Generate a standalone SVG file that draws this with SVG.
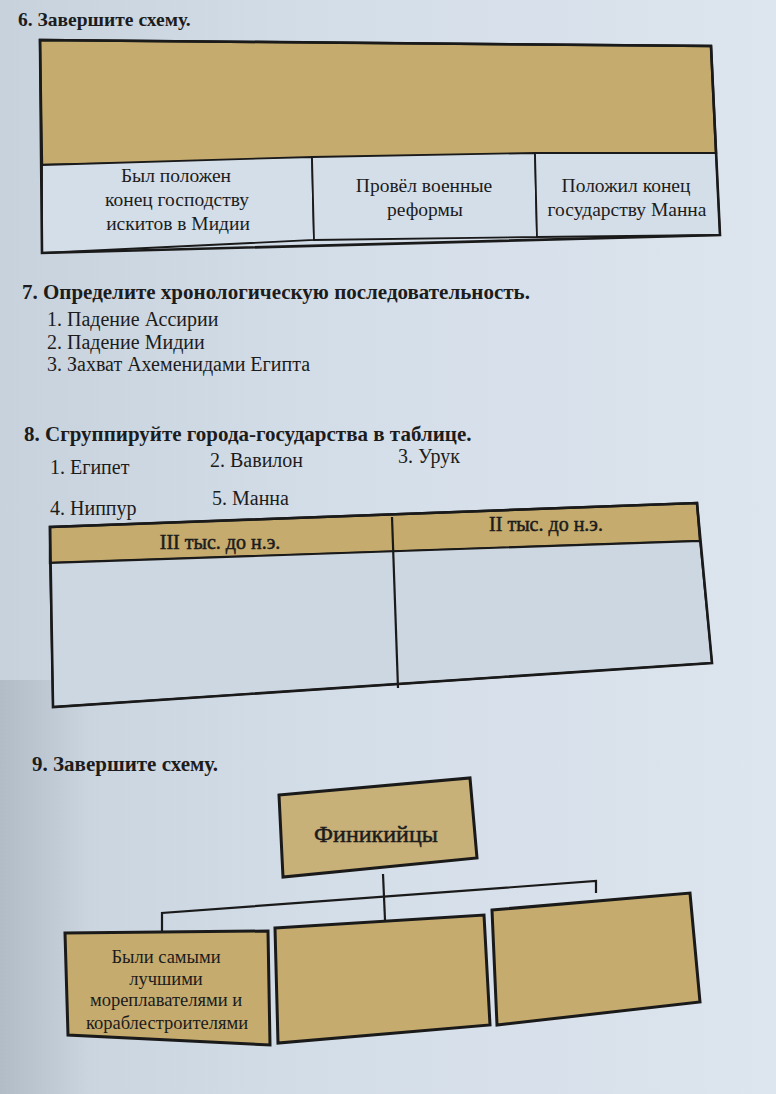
<svg xmlns="http://www.w3.org/2000/svg" width="776" height="1094" viewBox="0 0 776 1094">
<defs>
<style>
.t{font-family:"Liberation Serif","DejaVu Serif",serif;fill:#1c1c1c}
.h{font-weight:bold;font-size:20px}
.n{font-size:20px}
.c{font-size:19.5px;text-anchor:middle}
.hd{font-size:20px;text-anchor:middle;stroke:#1c1c1c;stroke-width:0.5}
.s{font-size:18.5px;text-anchor:middle}
.tan{fill:#c5ab6e;stroke:#1a1a1a;stroke-width:2.4}
.cell{fill:#d4dee9;stroke:#1a1a1a;stroke-width:1.8}
.ln{fill:none;stroke:#1a1a1a;stroke-width:2.2}
</style>
<linearGradient id="bg" x1="0" y1="0" x2="1" y2="0">
<stop offset="0" stop-color="#c8d2dd"/>
<stop offset="0.4" stop-color="#d3dde8"/>
<stop offset="1" stop-color="#dde5ee"/>
</linearGradient>
<linearGradient id="sh" x1="0" y1="0" x2="1" y2="0">
<stop offset="0" stop-color="#a9b3be"/>
<stop offset="1" stop-color="#a9b3be" stop-opacity="0"/>
</linearGradient>
</defs>
<rect width="776" height="1094" fill="url(#bg)"/>
<rect x="0" y="680" width="90" height="414" fill="url(#sh)" opacity="0.7"/>

<!-- Section 6 -->
<text class="t h" x="18" y="26" style="font-size:19.5px">6. Завершите схему.</text>
<g id="scheme6">
<polygon class="tan" points="40,40 711,46 716,153 42,165"/>
<polygon class="cell" points="42,165 312,157 314,240 42,253"/>
<polygon class="cell" points="312,157 535,153 537,237 314,240"/>
<polygon class="cell" points="535,153 716,153 720,235 537,237"/>
<polygon class="ln" points="40,40 711,46 720,235 42,253" style="stroke-width:2.6"/>
<text class="t c"><tspan x="176" y="182">Был положен</tspan><tspan x="177" y="206">конец господству</tspan><tspan x="178" y="230">искитов в Мидии</tspan></text>
<text class="t c"><tspan x="424" y="192">Провёл военные</tspan><tspan x="425" y="216">реформы</tspan></text>
<text class="t c"><tspan x="626" y="192">Положил конец</tspan><tspan x="627" y="216">государству Манна</tspan></text>
</g>

<!-- Section 7 -->
<text class="t h" x="22" y="299" style="font-size:21px">7. Определите хронологическую последовательность.</text>
<text class="t n" x="47" y="326">1. Падение Ассирии</text>
<text class="t n" x="47" y="349">2. Падение Мидии</text>
<text class="t n" x="47" y="371">3. Захват Ахеменидами Египта</text>

<!-- Section 8 -->
<text class="t h" x="24" y="441" style="font-size:21px">8. Сгруппируйте города-государства в таблице.</text>
<text class="t n" x="50" y="474">1. Египет</text>
<text class="t n" x="210" y="467">2. Вавилон</text>
<text class="t n" x="398" y="463">3. Урук</text>
<text class="t n" x="50" y="515">4. Ниппур</text>
<text class="t n" x="212" y="505">5. Манна</text>
<g id="table8">
<polygon class="tan" points="50,527 697,503 700,541 50,563"/>
<polygon class="cell" points="50,563 700,541 712,663 53,707" style="fill:#cdd7e2"/>
<polygon class="ln" points="50,527 697,503 712,663 53,707" style="stroke-width:2.6"/>
<line class="ln" x1="392" y1="517" x2="398" y2="688"/>
<text class="t hd" x="220" y="549">III тыс. до н.э.</text>
<text class="t hd" x="546" y="531">II тыс. до н.э.</text>
</g>

<!-- Section 9 -->
<text class="t h" x="32" y="771" style="font-size:21px">9. Завершите схему.</text>
<g id="connectors">
<line class="ln" x1="383" y1="874" x2="385" y2="920"/>
<polyline class="ln" points="162,933 162,913 596,881 596,893"/>
</g>
<g id="node-phoenicians">
<polygon class="tan" points="279,795 470,778 477,858 283,877" style="stroke-width:3;fill:#c8b079"/>
<text class="t c" x="376" y="842" style="font-size:24px;stroke:#1c1c1c;stroke-width:0.5">Финикийцы</text>
</g>
<g id="node-left">
<polygon class="tan" points="65,933 268,931 270,1045 68,1035" style="stroke-width:3"/>
<text class="t s"><tspan x="166" y="963">Были самыми</tspan><tspan x="166" y="985">лучшими</tspan><tspan x="166" y="1006">мореплавателями и</tspan><tspan x="167" y="1029">кораблестроителями</tspan></text>
</g>
<g id="node-middle">
<polygon class="tan" points="275,928 484,915 490,1025 278,1043" style="stroke-width:3"/>
</g>
<g id="node-right">
<polygon class="tan" points="492,910 690,893 700,1002 497,1025" style="stroke-width:3"/>
</g>
</svg>
